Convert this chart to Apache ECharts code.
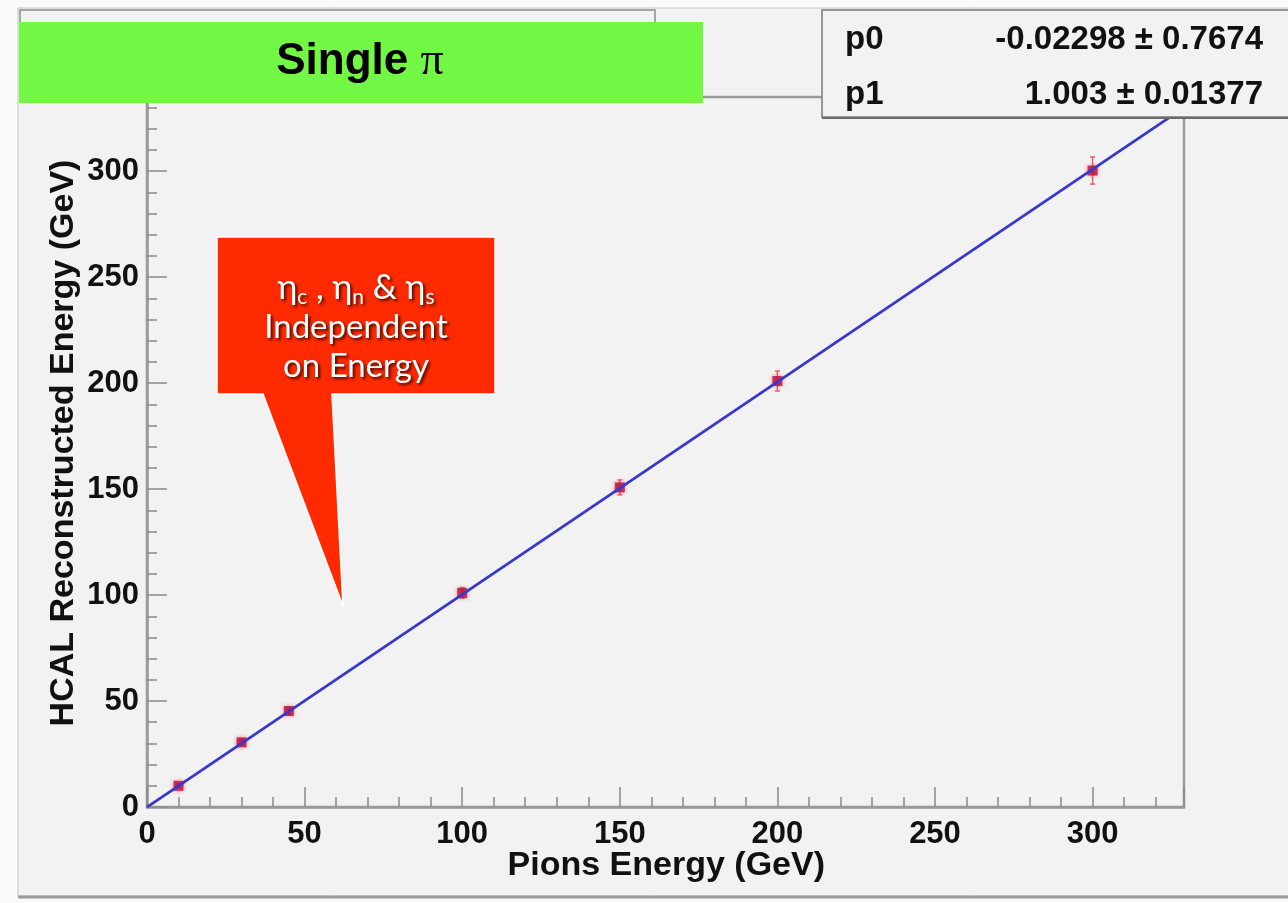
<!DOCTYPE html>
<html>
<head>
<meta charset="utf-8">
<title>Single π – HCAL linearity</title>
<script src="https://cdn.jsdelivr.net/npm/echarts@6/dist/echarts.min.js"></script>
<style>
  html, body { margin: 0; padding: 0; background: #fafafa; }
  #chart { width: 1288px; height: 903px; }
</style>
</head>
<body>
<div id="chart"></div>
<script>
// Beam energy of each pion run (GeV)
const pionEnergy = [10, 30, 45, 100, 150, 200, 300];
// Mean reconstructed HCAL energy (GeV)
const recoEnergy = [10.0, 30.5, 45.3, 101.0, 150.8, 201.0, 300.3];
// Uncertainty on the reconstructed energy (GeV)
const recoError = [0.8, 1.2, 1.5, 2.5, 3.5, 4.7, 6.4];

// Linear fit: E_reco = p0 + p1 * E_beam
const fitP0 = -0.02298, fitP0Err = 0.7674;
const fitP1 = 1.003, fitP1Err = 0.01377;
const fitRange = [0, 329];

// Axis ranges and tick spacing
const xRange = [0, 329];
const yRange = [0, 335];
const tickStep = 50;

const points = pionEnergy.map((e, i) => [e, recoEnergy[i], recoError[i]]);
const fitLine = fitRange.map(x => [x, fitP0 + fitP1 * x]);

const chart = echarts.init(document.getElementById('chart'), null, { renderer: 'canvas' });

const labelFont = '"Liberation Sans", Arial, Helvetica, sans-serif';
const calloutFont = 'Lato, "Open Sans", sans-serif';
const axisGray = '#9a9a9a';
const shadow = { textShadowColor: 'rgba(0,0,0,0.75)', textShadowBlur: 3, textShadowOffsetX: 2, textShadowOffsetY: 2 };

chart.setOption({
  animation: false,
  backgroundColor: '#fafafa',
  grid: {
    left: 147, right: 104, top: 97, bottom: 96,
    show: true, borderColor: axisGray, borderWidth: 2.5, backgroundColor: 'transparent'
  },
  xAxis: {
    type: 'value', min: xRange[0], max: xRange[1], interval: tickStep,
    axisLine: { show: true, lineStyle: { color: axisGray, width: 2.5 } },
    axisTick: { show: true, inside: true, length: 20, lineStyle: { color: '#8a8a8a', width: 1.5 } },
    minorTick: { show: true, splitNumber: 5, length: 10, lineStyle: { color: '#8a8a8a', width: 1.5 } },
    splitLine: { show: false },
    axisLabel: {
      margin: 12, color: '#111', fontSize: 31, fontWeight: 'bold', fontFamily: labelFont,
      showMinLabel: true, showMaxLabel: false
    }
  },
  yAxis: {
    type: 'value', min: yRange[0], max: yRange[1], interval: tickStep,
    axisLine: { show: true, lineStyle: { color: axisGray, width: 2.5 } },
    axisTick: { show: true, inside: true, length: 20, lineStyle: { color: '#8a8a8a', width: 1.5 } },
    minorTick: { show: true, splitNumber: 5, length: 10, lineStyle: { color: '#8a8a8a', width: 1.5 } },
    splitLine: { show: false },
    axisLabel: {
      margin: 8, color: '#111', fontSize: 31, fontWeight: 'bold', fontFamily: labelFont,
      showMinLabel: true, showMaxLabel: false
    }
  },
  series: [
    {
      // vertical error bars with small end caps
      type: 'custom',
      z: 3,
      data: points,
      renderItem: function (params, api) {
        const x = api.value(0), y = api.value(1), err = api.value(2);
        const top = api.coord([x, y + err]);
        const bot = api.coord([x, y - err]);
        const cap = 2.5;
        const st = { stroke: '#e0606a', lineWidth: 1.5 };
        return {
          type: 'group',
          children: [
            { type: 'line', shape: { x1: top[0], y1: top[1], x2: bot[0], y2: bot[1] }, style: st },
            { type: 'line', shape: { x1: top[0] - cap, y1: top[1], x2: top[0] + cap, y2: top[1] }, style: st },
            { type: 'line', shape: { x1: bot[0] - cap, y1: bot[1], x2: bot[0] + cap, y2: bot[1] }, style: st }
          ]
        };
      }
    },
    {
      type: 'scatter',
      z: 4,
      data: points.map(p => [p[0], p[1]]),
      symbol: 'rect',
      symbolSize: 10,
      itemStyle: { color: '#b80e3c', shadowColor: 'rgba(230,60,80,0.7)', shadowBlur: 4 }
    },
    {
      type: 'line',
      z: 5,
      data: fitLine,
      showSymbol: false,
      lineStyle: { color: '#3838cc', width: 2.8 }
    }
  ],
  graphic: [
    // canvas pad
    {
      type: 'rect', z: -10, silent: true,
      shape: { x: 18, y: 8, width: 1290, height: 888 },
      style: { fill: '#f2f2f2', stroke: '#c4c4c4', lineWidth: 1 }
    },
    {
      type: 'line', z: -9, silent: true,
      shape: { x1: 18, y1: 897, x2: 1288, y2: 897 },
      style: { stroke: '#9a9a9a', lineWidth: 3 }
    },
    // histogram title box (mostly covered by the banner)
    {
      type: 'rect', z: 50, silent: true,
      shape: { x: 20, y: 10, width: 635, height: 86 },
      style: { fill: '#f2f2f2', stroke: '#8c8c8c', lineWidth: 1.5 }
    },
    // fit statistics box
    {
      type: 'rect', z: 50, silent: true,
      shape: { x: 822, y: 10, width: 480, height: 107 },
      style: { fill: '#f2f2f2', stroke: '#7a7a7a', lineWidth: 1.5 }
    },
    {
      type: 'line', z: 51, silent: true,
      shape: { x1: 822, y1: 118, x2: 1288, y2: 118 },
      style: { stroke: '#6a6a6a', lineWidth: 2 }
    },
    {
      type: 'text', z: 52, silent: true, x: 845, y: 40,
      style: { text: 'p0', fill: '#111', font: 'bold 33px ' + labelFont, align: 'left', verticalAlign: 'middle' }
    },
    {
      type: 'text', z: 52, silent: true, x: 1263, y: 40,
      style: { text: fitP0 + ' \u00b1 ' + fitP0Err, fill: '#111', font: 'bold 33px ' + labelFont, align: 'right', verticalAlign: 'middle' }
    },
    {
      type: 'text', z: 52, silent: true, x: 845, y: 95,
      style: { text: 'p1', fill: '#111', font: 'bold 33px ' + labelFont, align: 'left', verticalAlign: 'middle' }
    },
    {
      type: 'text', z: 52, silent: true, x: 1263, y: 95,
      style: { text: fitP1.toFixed(3) + ' \u00b1 ' + fitP1Err, fill: '#111', font: 'bold 33px ' + labelFont, align: 'right', verticalAlign: 'middle' }
    },
    // axis titles
    {
      type: 'text', z: 20, silent: true, x: 825, y: 866,
      style: { text: 'Pions Energy (GeV)', fill: '#111', font: 'bold 34px ' + labelFont, align: 'right', verticalAlign: 'middle' }
    },
    {
      type: 'text', z: 20, silent: true, x: 64, y: 443, rotation: Math.PI / 2,
      style: { text: 'HCAL Reconstructed Energy (GeV)', fill: '#111', font: 'bold 34px ' + labelFont, align: 'center', verticalAlign: 'middle' }
    },
    // green banner
    {
      type: 'rect', z: 60, silent: true,
      shape: { x: 19, y: 22, width: 684, height: 81 },
      style: { fill: '#72f744' }
    },
    {
      type: 'text', z: 61, silent: true, x: 360, y: 62,
      style: {
        text: '{a|Single }{b|\u03c0}',
        align: 'center', verticalAlign: 'middle',
        rich: {
          a: { fill: '#000', fontSize: 44, fontWeight: 'bold', fontFamily: labelFont },
          b: { fill: '#000', fontSize: 46, fontFamily: '"Liberation Serif", "DejaVu Serif", serif' }
        }
      }
    },
    // red callout
    {
      type: 'polygon', z: 60, silent: true,
      shape: { points: [[217, 237], [495, 237], [495, 394], [332, 394], [343, 606], [263, 394], [217, 394]] },
      style: { fill: '#ff2a00', stroke: '#ffffff', lineWidth: 1.5 }
    },
    {
      type: 'text', z: 61, silent: true, x: 356, y: 288,
      style: Object.assign({
        text: '{e|\u03b7}{s|c}{e| , \u03b7}{s|n}{e| & \u03b7}{s|s}',
        align: 'center', verticalAlign: 'middle',
        rich: {
          e: Object.assign({ fill: '#fff', fontSize: 34, lineHeight: 40, fontFamily: calloutFont }, shadow),
          s: Object.assign({ fill: '#fff', fontSize: 21, lineHeight: 21, verticalAlign: 'bottom', fontFamily: calloutFont }, shadow)
        }
      }, shadow)
    },
    {
      type: 'text', z: 61, silent: true, x: 356, y: 327,
      style: Object.assign({
        text: 'Independent', fill: '#fff', font: '33px ' + calloutFont,
        align: 'center', verticalAlign: 'middle'
      }, shadow)
    },
    {
      type: 'text', z: 61, silent: true, x: 356, y: 366,
      style: Object.assign({
        text: 'on Energy', fill: '#fff', font: '33px ' + calloutFont,
        align: 'center', verticalAlign: 'middle'
      }, shadow)
    }
  ]
});
</script>
</body>
</html>
